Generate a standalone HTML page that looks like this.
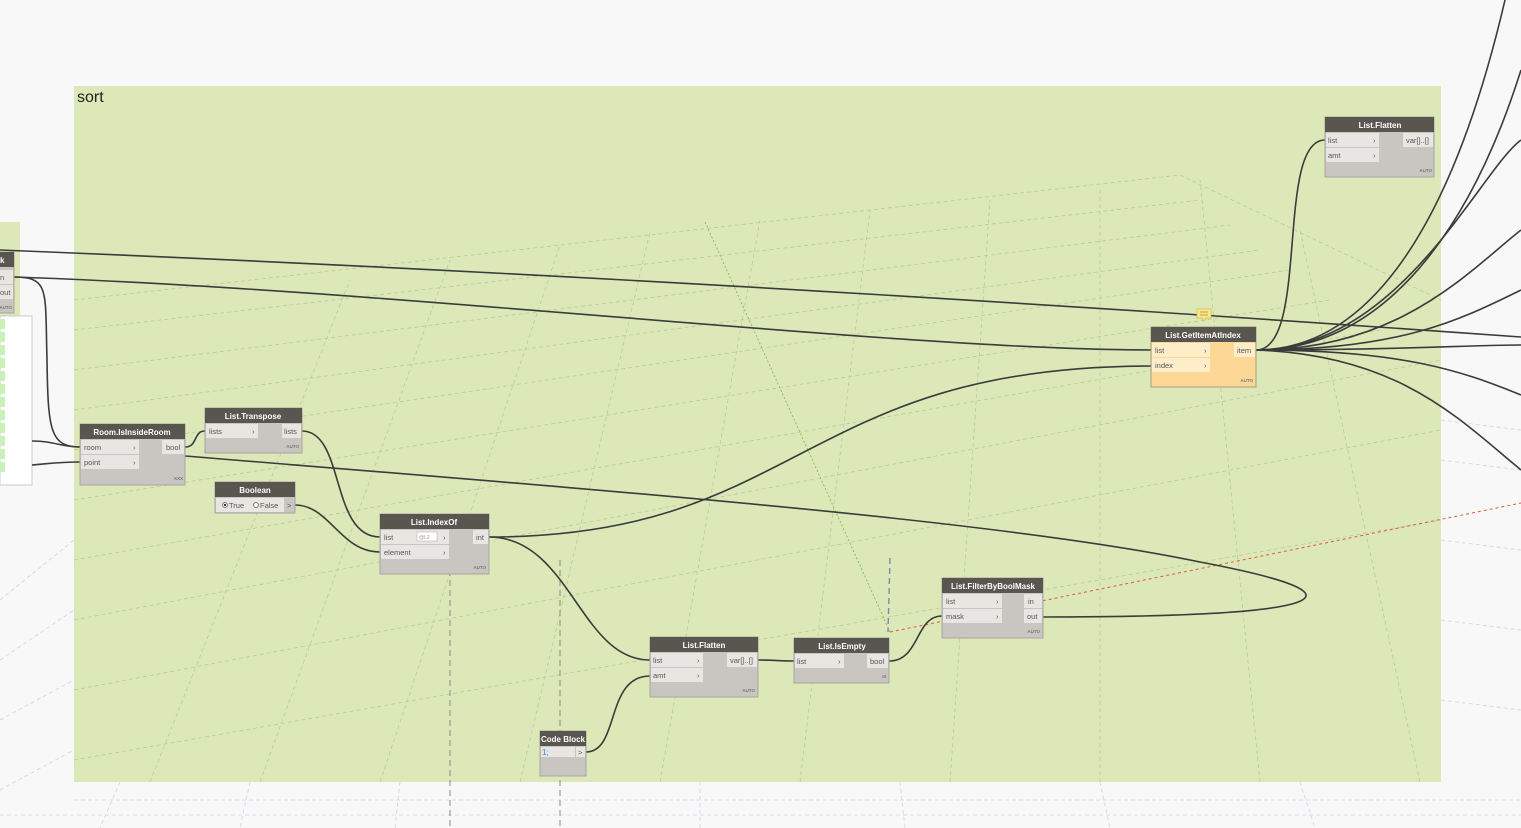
<!DOCTYPE html>
<html><head><meta charset="utf-8"><style>
html,body{margin:0;padding:0;background:#f8f8f8;}
svg{display:block;font-family:"Liberation Sans",sans-serif;}
.h{fill:#59554f;}
.b{fill:#c9c6c1;stroke:#a9a6a1;stroke-width:1;}
.r{fill:#e8e6e3;}
.t{fill:#fff;font-size:8px;font-weight:bold;text-anchor:middle;}
.p{fill:#555;font-size:7.5px;}
.a{fill:#777;font-size:4.5px;font-weight:bold;text-anchor:end;}
.w{fill:none;stroke:#3b3b3b;stroke-width:1.6;}
.g{stroke:#b9cc95;stroke-width:0.8;stroke-dasharray:4 3;fill:none;}
</style></head><body>
<svg width="1521" height="828" viewBox="0 0 1521 828">
<!-- bluish outer grid -->
<g stroke="#c9d6e0" stroke-width="0.8" stroke-dasharray="4 3" fill="none">
<path d="M0 600 L74 540 M0 660 L74 610 M0 720 L74 680 M0 790 L74 750"/>
<path d="M74 800 L1521 800 M0 815 L1521 815 M1441 420 L1521 430 M1441 460 L1521 470 M1441 540 L1521 550 M1441 620 L1521 630 M1441 700 L1521 710"/>
<path d="M120 782 L100 828 M250 782 L240 828 M400 782 L395 828 M700 782 L700 828 M900 782 L905 828 M1100 782 L1110 828 M1300 782 L1315 828"/>
</g>
<!-- left group fragment -->
<rect x="0" y="222" width="20" height="95" fill="#dce8b8"/>
<!-- main group -->
<rect x="74" y="86" width="1367" height="696" fill="#dce8b8"/>
<text x="77" y="102" font-size="16" fill="#222">sort</text>
<!-- grid inside group -->
<g class="g">
<path d="M74 300 L1180 175 L1441 300"/>
<path d="M74 330 L1200 200 M74 370 L1230 225 M74 410 L1260 250 M74 450 L1290 270 M74 500 L1330 300 M74 560 L1380 330 M74 620 L1441 360 M74 690 L1441 430 M74 760 L1441 520"/>
<path d="M150 782 L350 280 M260 782 L450 260 M380 782 L560 245 M520 782 L650 232 M660 782 L760 220 M800 782 L870 210 M950 782 L990 200 M1100 782 L1100 190 M1260 782 L1200 180 M1420 782 L1300 230"/>
</g>
<path d="M705 222 L890 632" stroke="#7bbf4e" stroke-width="0.9" stroke-dasharray="2 2" fill="none"/>
<path d="M450 530 L450 828 M560 560 L560 828" stroke="#8a8a8a" stroke-width="1" stroke-dasharray="6 4" fill="none"/>
<path d="M890 558 L888 632" stroke="#7a8bb0" stroke-width="1.4" stroke-dasharray="6 4" fill="none"/>
<path d="M890 632 L1521 503" stroke="#e05a3a" stroke-width="1" stroke-dasharray="3 3" fill="none"/>
<!-- white list panel -->
<rect x="0" y="316" width="32" height="169" fill="#fff" stroke="#ccc"/>
<g fill="#c9f0b8"><rect x="0" y="319" width="5" height="10"/><rect x="0" y="332" width="5" height="10"/><rect x="0" y="345" width="5" height="10"/><rect x="0" y="358" width="5" height="10"/><rect x="0" y="371" width="5" height="10"/><rect x="0" y="384" width="5" height="10"/><rect x="0" y="397" width="5" height="10"/><rect x="0" y="410" width="5" height="10"/><rect x="0" y="423" width="5" height="10"/><rect x="0" y="436" width="5" height="10"/><rect x="0" y="449" width="5" height="10"/><rect x="0" y="462" width="5" height="10"/></g>
<!-- wires -->
<path class="w" d="M0 250 C500 270 1000 300 1521 337"/>
<path class="w" d="M14 277 C400 290 900 350 1151 350"/>
<path class="w" d="M14 277 C50 277 45 290 47 360 C48 430 50 447 80 447"/>
<path class="w" d="M32 441 C55 441 60 447 80 447"/>
<path class="w" d="M32 465 C55 463 60 462 80 462"/>
<path class="w" d="M185 447 C198 447 193 431 205 431"/>
<path class="w" d="M1043 617 C1300 617 1400 600 1200 562 C1000 520 600 490 185 456"/>
<path class="w" d="M302 431 C345 431 330 537 380 537"/>
<path class="w" d="M295 505 C330 505 340 552 380 552"/>
<path class="w" d="M489 537 C800 537 800 366 1151 366"/>
<path class="w" d="M489 537 C570 537 580 660 650 660"/>
<path class="w" d="M586 752 C620 752 605 676 650 676"/>
<path class="w" d="M758 660 C775 660 780 661 794 661"/>
<path class="w" d="M889 661 C920 661 915 616 942 616"/>
<path class="w" d="M1256 350 C1310 350 1275 140 1325 140"/>
<path class="w" d="M1256 350 C1400 350 1480 200 1521 70"/>
<path class="w" d="M1256 350 C1400 350 1470 150 1505 0"/>
<path class="w" d="M1256 350 C1400 350 1470 270 1521 230"/>
<path class="w" d="M1256 350 C1400 350 1460 320 1521 290"/>
<path class="w" d="M1256 350 C1400 350 1470 345 1521 345"/>
<path class="w" d="M1256 350 C1400 350 1460 370 1521 395"/>
<path class="w" d="M1256 350 C1400 355 1460 420 1521 470"/>
<path class="w" d="M1256 350 C1400 350 1480 170 1521 140"/>
<!-- left partial node -->
<rect class="b" x="-40" y="252" width="54" height="61"/><rect class="h" x="-40" y="252" width="54" height="15"/>
<text x="0" y="263" fill="#fff" font-size="8" font-weight="bold">k</text>
<rect class="r" x="-40" y="270" width="53" height="14"/><text class="p" x="0" y="280">n</text>
<rect class="r" x="-40" y="285" width="53" height="14"/><text class="p" x="0" y="295">out</text>
<text class="a" x="12" y="309">AUTO</text>
<!-- Room.IsInsideRoom -->
<rect class="b" x="80" y="424" width="105" height="61"/><rect class="h" x="80" y="424" width="105" height="15"/>
<text class="t" x="132" y="435">Room.IsInsideRoom</text>
<rect class="r" x="81" y="440" width="58" height="14"/><text class="p" x="84" y="450">room</text><text class="p" x="133" y="450">›</text>
<rect class="r" x="81" y="455" width="58" height="14"/><text class="p" x="84" y="465">point</text><text class="p" x="133" y="465">›</text>
<rect class="r" x="162" y="440" width="22" height="14"/><text class="p" x="166" y="450">bool</text>
<text class="a" x="183" y="480">XXX</text>
<!-- List.Transpose -->
<rect class="b" x="205" y="408" width="97" height="45"/><rect class="h" x="205" y="408" width="97" height="15"/>
<text class="t" x="253" y="419">List.Transpose</text>
<rect class="r" x="206" y="424" width="52" height="14"/><text class="p" x="209" y="434">lists</text><text class="p" x="252" y="434">›</text>
<rect class="r" x="282" y="424" width="19" height="14"/><text class="p" x="284" y="434">lists</text>
<text class="a" x="299" y="448">AUTO</text>
<!-- Boolean -->
<rect class="b" x="215" y="482" width="80" height="31"/><rect class="h" x="215" y="482" width="80" height="15"/>
<text class="t" x="255" y="493">Boolean</text>
<rect class="r" x="216" y="498" width="68" height="14"/>
<circle cx="225" cy="505" r="2.5" fill="#fff" stroke="#555" stroke-width="0.7"/><circle cx="225" cy="505" r="1.2" fill="#333"/>
<text class="p" x="229" y="508">True</text>
<circle cx="256" cy="505" r="2.5" fill="#fff" stroke="#555" stroke-width="0.7"/><text class="p" x="260" y="508">False</text>
<text class="p" x="287" y="508">&gt;</text>
<!-- List.IndexOf -->
<rect class="b" x="380" y="514" width="109" height="60"/><rect class="h" x="380" y="514" width="109" height="15"/>
<text class="t" x="434" y="525">List.IndexOf</text>
<rect class="r" x="381" y="530" width="68" height="14"/><text class="p" x="384" y="540">list</text>
<rect x="417" y="532" width="20" height="9" fill="#fff" stroke="#aaa" stroke-width="0.5"/><text x="419" y="539" font-size="5" fill="#999">@L2</text><text class="p" x="443" y="540">›</text>
<rect class="r" x="381" y="545" width="68" height="14"/><text class="p" x="384" y="555">element</text><text class="p" x="443" y="555">›</text>
<rect class="r" x="473" y="530" width="15" height="14"/><text class="p" x="476" y="540">int</text>
<text class="a" x="486" y="569">AUTO</text>
<!-- List.Flatten bottom -->
<rect class="b" x="650" y="637" width="108" height="60"/><rect class="h" x="650" y="637" width="108" height="15"/>
<text class="t" x="704" y="648">List.Flatten</text>
<rect class="r" x="651" y="653" width="52" height="14"/><text class="p" x="653" y="663">list</text><text class="p" x="697" y="663">›</text>
<rect class="r" x="651" y="668" width="52" height="14"/><text class="p" x="653" y="678">amt</text><text class="p" x="697" y="678">›</text>
<rect class="r" x="727" y="653" width="30" height="14"/><text class="p" x="730" y="663">var[]..[]</text>
<text class="a" x="755" y="692">AUTO</text>
<!-- List.IsEmpty -->
<rect class="b" x="794" y="638" width="95" height="45"/><rect class="h" x="794" y="638" width="95" height="15"/>
<text class="t" x="842" y="649">List.IsEmpty</text>
<rect class="r" x="795" y="654" width="49" height="14"/><text class="p" x="797" y="664">list</text><text class="p" x="838" y="664">›</text>
<rect class="r" x="867" y="654" width="21" height="14"/><text class="p" x="870" y="664">bool</text>
<text class="a" x="886" y="678">III</text>
<!-- List.FilterByBoolMask -->
<rect class="b" x="942" y="578" width="101" height="60"/><rect class="h" x="942" y="578" width="101" height="15"/>
<text class="t" x="993" y="589">List.FilterByBoolMask</text>
<rect class="r" x="943" y="594" width="59" height="14"/><text class="p" x="946" y="604">list</text><text class="p" x="996" y="604">›</text>
<rect class="r" x="943" y="609" width="59" height="14"/><text class="p" x="946" y="619">mask</text><text class="p" x="996" y="619">›</text>
<rect class="r" x="1024" y="594" width="18" height="14"/><text class="p" x="1028" y="604">in</text>
<rect class="r" x="1024" y="609" width="18" height="14"/><text class="p" x="1027" y="619">out</text>
<text class="a" x="1040" y="633">AUTO</text>
<!-- Code Block -->
<rect class="b" x="540" y="731" width="46" height="45"/><rect class="h" x="540" y="731" width="46" height="15"/>
<text class="t" x="563" y="742">Code Block</text>
<rect class="r" x="541" y="747" width="34" height="10"/><text x="542" y="755" font-size="8" fill="#3a7fd5">1;</text>
<rect class="r" x="576" y="747" width="9" height="10"/><text class="p" x="578" y="755">&gt;</text>
<!-- List.GetItemAtIndex -->
<rect x="1151" y="327" width="105" height="60" fill="#fdd795" stroke="#a99d82"/><rect class="h" x="1151" y="327" width="105" height="15"/>
<text class="t" x="1203" y="338">List.GetItemAtIndex</text>
<rect x="1152" y="343" width="58" height="14" fill="#fdedc9"/><text class="p" x="1155" y="353">list</text><text class="p" x="1204" y="353">›</text>
<rect x="1152" y="358" width="58" height="14" fill="#fdedc9"/><text class="p" x="1155" y="368">index</text><text class="p" x="1204" y="368">›</text>
<rect x="1234" y="343" width="21" height="14" fill="#fdedc9"/><text class="p" x="1237" y="353">item</text>
<text class="a" x="1253" y="382">AUTO</text>
<path d="M1197 309 h14 v9 h-5 l-2 3 l-2 -3 h-5 z" fill="#fbe88a" stroke="#d8b84a" stroke-width="0.7"/>
<path d="M1200 312 h8 M1200 315 h8" stroke="#a08a3a" stroke-width="0.7"/>
<!-- List.Flatten top -->
<rect class="b" x="1325" y="117" width="109" height="60"/><rect class="h" x="1325" y="117" width="109" height="15"/>
<text class="t" x="1380" y="128">List.Flatten</text>
<rect class="r" x="1326" y="133" width="53" height="14"/><text class="p" x="1328" y="143">list</text><text class="p" x="1373" y="143">›</text>
<rect class="r" x="1326" y="148" width="53" height="14"/><text class="p" x="1328" y="158">amt</text><text class="p" x="1373" y="158">›</text>
<rect class="r" x="1403" y="133" width="30" height="14"/><text class="p" x="1406" y="143">var[]..[]</text>
<text class="a" x="1432" y="172">AUTO</text>
</svg>
</body></html>
